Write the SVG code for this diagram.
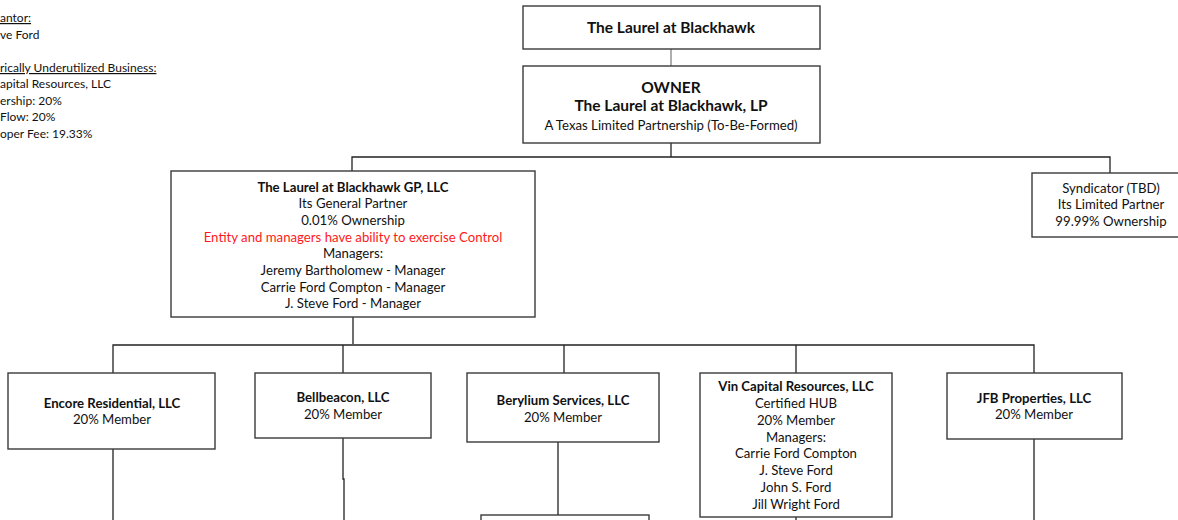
<svg xmlns="http://www.w3.org/2000/svg" width="1178" height="520" viewBox="0 0 1178 520">
<style>
text{font-family:Lato,"Open Sans","Liberation Sans",sans-serif;fill:#111;font-size:13.2px;text-anchor:middle}
.b{font-weight:bold}
.t{font-size:15.5px;font-weight:bold}
.red{fill:#ff1a1a}
.l{text-anchor:start;font-size:12px}
.u{text-decoration:underline}
rect{fill:#fff;stroke:#3a3a3a;stroke-width:1.4}
.c path{fill:none;stroke:#222;stroke-width:1.3}
.c path.g{stroke:#9a9a9a;stroke-width:1.6}
</style>
<rect x="0" y="0" width="1178" height="520" style="stroke:none"/>
<g id="notes">
<text class="l u" x="0" y="22">antor:</text>
<text class="l" x="0" y="39">ve Ford</text>
<text class="l u" x="0" y="72">rically Underutilized Business:</text>
<text class="l" x="0" y="88">apital Resources, LLC</text>
<text class="l" x="0" y="105">ership: 20%</text>
<text class="l" x="0" y="121">Flow: 20%</text>
<text class="l" x="0" y="138">oper Fee: 19.33%</text>
</g>
<g class="c" id="connectors">
<path class="g" d="M671 49V66"/>
<path d="M671 143V157M352 171V157H1110V173"/>
<path d="M353 317V344M113 373V345H1034V373M343 345V373M564 345V373M796 345V373"/>
<path d="M113 449V520M343 438V479H344V520M558 442V515M796 517V520M1034 439V520"/>
</g>
<g id="top"><rect x="523" y="6" width="297" height="43"/><text class="t" x="671" y="33">The Laurel at Blackhawk</text></g>
<g id="owner"><rect x="523" y="66" width="297" height="77"/>
<text class="t" x="671" y="93">OWNER</text>
<text class="t" x="671" y="111">The Laurel at Blackhawk, LP</text>
<text x="671" y="130">A Texas Limited Partnership (To-Be-Formed)</text></g>
<g id="gp"><rect x="171" y="171" width="364" height="146"/>
<text class="b" x="353" y="192">The Laurel at Blackhawk GP, LLC</text>
<text x="353" y="208">Its General Partner</text>
<text x="353" y="225">0.01% Ownership</text>
<text class="red" x="353" y="242">Entity and managers have ability to exercise Control</text>
<text x="353" y="258">Managers:</text>
<text x="353" y="275">Jeremy Bartholomew - Manager</text>
<text x="353" y="292">Carrie Ford Compton - Manager</text>
<text x="353" y="308">J. Steve Ford - Manager</text></g>
<g id="syndicator"><rect x="1032" y="173" width="160" height="64"/>
<text x="1111" y="193">Syndicator (TBD)</text>
<text x="1111" y="209">Its Limited Partner</text>
<text x="1111" y="226">99.99% Ownership</text></g>
<g id="encore"><rect x="8" y="373" width="207" height="76"/>
<text class="b" x="112" y="408">Encore Residential, LLC</text>
<text x="112" y="424">20% Member</text></g>
<g id="bellbeacon"><rect x="255" y="373" width="176" height="65"/>
<text class="b" x="343" y="402">Bellbeacon, LLC</text>
<text x="343" y="419">20% Member</text></g>
<g id="berylium"><rect x="467" y="373" width="192" height="69"/>
<text class="b" x="563" y="405">Berylium Services, LLC</text>
<text x="563" y="422">20% Member</text></g>
<g id="vin"><rect x="700" y="373" width="192" height="144"/>
<text class="b" x="796" y="391">Vin Capital Resources, LLC</text>
<text x="796" y="408">Certified HUB</text>
<text x="796" y="425">20% Member</text>
<text x="796" y="442">Managers:</text>
<text x="796" y="458">Carrie Ford Compton</text>
<text x="796" y="475">J. Steve Ford</text>
<text x="796" y="492">John S. Ford</text>
<text x="796" y="509">Jill Wright Ford</text></g>
<g id="jfb"><rect x="947" y="373" width="175" height="66"/>
<text class="b" x="1034" y="403">JFB Properties, LLC</text>
<text x="1034" y="419">20% Member</text></g>
<g id="child"><rect x="481" y="515" width="168" height="20"/></g>
</svg>
